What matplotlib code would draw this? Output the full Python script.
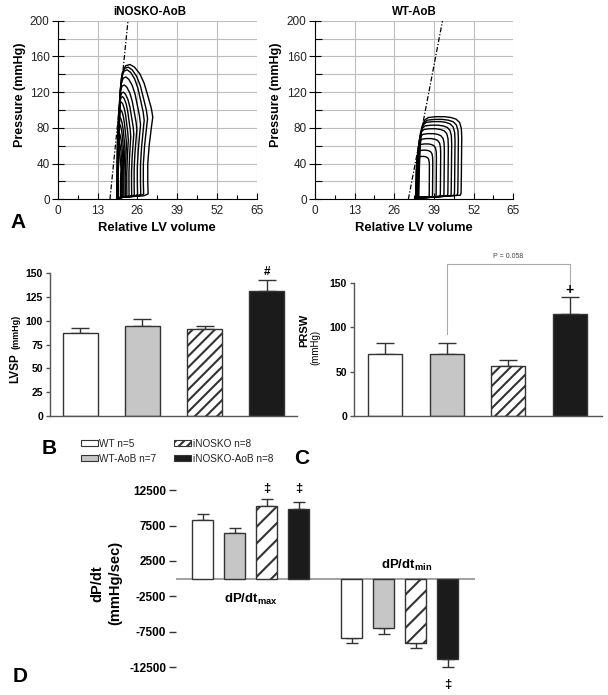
import numpy as np
import matplotlib.pyplot as plt
from matplotlib.patches import Patch

plt.rcParams['font.family'] = ['Liberation Sans', 'DejaVu Sans']
plt.rcParams['mathtext.fontset'] = 'custom'
plt.rcParams['mathtext.rm'] = 'Liberation Sans'
plt.rcParams['mathtext.bf'] = 'Liberation Sans:bold'
plt.rcParams['hatch.linewidth'] = 1.5
plt.rcParams['axes.unicode_minus'] = False

# ---- data ----
groups = ['WT n=5', 'WT-AoB n=7', 'iNOSKO n=8', 'iNOSKO-AoB n=8']
bar_colors = ['white', '#c6c6c6', 'white', '#1b1b1b']
bar_hatch = [None, None, '///', None]

lvsp = [87.5, 94.5, 91.5, 131.5]
lvsp_err = [5.5, 7.5, 3.0, 11.0]

prsw = [70.3, 70.3, 56.4, 115.0]
prsw_err = [12.0, 12.4, 7.1, 18.8]

dpdt_max = [8270, 6400, 10290, 9820]
dpdt_max_err = [840, 700, 900, 990]
dpdt_min = [-8310, -6990, -9050, -11350]
dpdt_min_err = [790, 800, 650, 1150]

vol_ticks = [0, 13, 26, 39, 52, 65]
p_ticks = [0, 40, 80, 120, 160, 200]

# ESPVR lines (volume at P=0 and P=200)
espvr_p = [0, 200]
ko_espvr_v = [17.0, 22.9]
wt_espvr_v = [30.6, 41.8]

# loop outlines, normalised (u: fraction of stroke volume, v: fraction of peak pressure)
ko_shape_u = [0.0, 0.03, 0.07, 0.10, 0.15, 0.24, 0.36, 0.49, 0.64, 0.76, 0.87,
              0.96, 1.0, 0.96, 0.90, 0.86, 0.86, 0.87, 0.75, 0.41, 0.07, 0.0]
ko_shape_v = [0.01, 0.26, 0.60, 0.83, 0.94, 0.99, 1.0, 0.98, 0.93, 0.86, 0.76,
              0.675, 0.61, 0.53, 0.40, 0.265, 0.13, 0.04, 0.026, 0.02, 0.013, 0.01]
wt_shape_u = [0.0, 0.01, 0.03, 0.06, 0.09, 0.14, 0.22, 0.40, 0.60, 0.75, 0.87,
              0.95, 0.99, 1.0, 0.995, 0.99, 0.985, 0.97, 0.70, 0.35, 0.0]
wt_shape_v = [0.03, 0.30, 0.60, 0.80, 0.90, 0.96, 0.99, 1.0, 1.0, 0.99, 0.97,
              0.93, 0.86, 0.75, 0.50, 0.25, 0.08, 0.05, 0.04, 0.025, 0.03]

# per-loop extents: left volume, right volume, peak pressure
ko_vmin = [19.3, 19.4, 19.5, 19.5, 19.4, 19.5, 19.6, 19.4, 19.5, 19.3, 19.4, 19.2, 19.3, 19.4]
ko_vmax = [31.0, 29.3, 28.2, 27.0, 25.8, 24.8, 23.8, 23.0, 22.4, 21.9, 21.5, 21.2, 20.9, 20.6]
ko_pmax = [151, 148, 145, 137, 128, 120, 115, 109, 100, 92, 84, 75, 65, 55]

wt_vmin = [34.0, 33.9, 33.8, 33.6, 33.5, 33.4, 33.3, 33.2, 33.1, 33.0]
wt_vmax = [48.1, 47.0, 45.9, 44.8, 43.7, 42.4, 41.2, 39.8, 38.6, 37.5]
wt_pmax = [92.5, 89.5, 87, 83, 79, 73.5, 68, 62, 55, 48]

W, H = 608, 695


def rect(l, r, t, b):
    return [l / W, 1 - b / H, (r - l) / W, (b - t) / H]


fig = plt.figure(figsize=(W / 100, H / 100), dpi=100)


def pv_panel(box, title, su, sv, vmin, vmax, pmax, espvr_v, ylab_x, title_x):
    ax = fig.add_axes(box)
    ax.set_xlim(0, 65)
    ax.set_ylim(0, 200)
    ax.set_xticks(vol_ticks)
    ax.set_xticks([6.5, 19.5, 32.5, 45.5, 58.5], minor=True)
    ax.set_yticks(p_ticks)
    ax.set_yticks([20, 60, 100, 140, 180], minor=True)
    ax.grid(True, axis='y', which='both', color='#bdbdbd', lw=0.8)
    ax.grid(True, axis='x', which='major', color='#bdbdbd', lw=0.8)
    ax.set_axisbelow(True)
    ax.spines['top'].set_visible(False)
    ax.spines['right'].set_visible(False)
    ax.tick_params(axis='y', which='major', direction='inout', length=8, width=0.8,
                   labelsize=8.5, labelcolor='#222', pad=2)
    ax.tick_params(axis='y', which='minor', direction='in', length=5, width=0.8)
    ax.tick_params(axis='x', which='major', direction='in', length=4, width=0.8,
                   labelsize=8.5, labelcolor='#222', pad=4)
    ax.tick_params(axis='x', which='minor', direction='in', length=3, width=0.8)
    su = np.array(su)
    sv = np.array(sv)
    for a, b, p in zip(vmin, vmax, pmax):
        ax.plot(a + su * (b - a), sv * p, color='black', lw=1.0)
    ax.plot(espvr_v, espvr_p, color='black', lw=0.9, ls=(0, (4, 1.5, 1, 1.5)))
    ax.set_xlabel('Relative LV volume', fontsize=9.4, fontweight='bold', labelpad=4)
    fig.text(ylab_x / W, 1 - 95 / H, 'Pressure (mmHg)', rotation=90, fontsize=9,
             fontweight='bold', ha='center', va='center')
    fig.text(title_x / W, 1 - 12 / H, title, fontsize=8.3, fontweight='bold',
             ha='center', va='center')
    return ax


pv_panel(rect(58, 256.7, 20.7, 199.3), 'iNOSKO-AoB', ko_shape_u, ko_shape_v,
         ko_vmin, ko_vmax, ko_pmax, ko_espvr_v, 20, 150)
pv_panel(rect(315, 513.3, 20.7, 199.3), 'WT-AoB', wt_shape_u, wt_shape_v,
         wt_vmin, wt_vmax, wt_pmax, wt_espvr_v, 276, 414)


def bars(ax, xpos, vals, errs, width, capsize, up=True, hatch_list=bar_hatch):
    for x, v, c, h in zip(xpos, vals, bar_colors, hatch_list):
        ax.bar(x, v, width, color=c, edgecolor='#333333', lw=1.0, hatch=h, zorder=2)
    z = np.zeros(len(vals))
    yerr = [z, errs] if up else [errs, z]
    ax.errorbar(xpos, vals, yerr=yerr, fmt='none', ecolor='#333333', elinewidth=1.0,
                capsize=capsize, capthick=1.0, zorder=1)


def style_bar_axes(ax):
    for s in ['top', 'right']:
        ax.spines[s].set_visible(False)
    for s in ['left', 'bottom']:
        ax.spines[s].set_color('#555555')
        ax.spines[s].set_linewidth(1.0)
    ax.set_xticks([])
    ax.tick_params(axis='y', length=3, width=1.0, color='#555555', labelsize=7.5, pad=2)
    for t in ax.get_yticklabels():
        t.set_fontweight('bold')


# ---- panel B ----
xb = np.arange(4)
axB = fig.add_axes(rect(50, 297, 273.3, 416))
bars(axB, xb, lvsp, lvsp_err, 0.565, 6.5)
axB.set_xlim(-0.49, 3.49)
axB.set_ylim(0, 150)
axB.set_yticks([0, 25, 50, 75, 100, 125, 150])
style_bar_axes(axB)
axB.text(3, 151.5, '#', ha='center', va='center', fontsize=8.5, fontweight='bold')
fig.text(15 / W, 1 - 368 / H, 'LVSP', rotation=90, fontsize=8.5, fontweight='bold',
         ha='center', va='center')
fig.text(16 / W, 1 - 332 / H, '(mmHg)', rotation=90, fontsize=6.5, fontweight='bold',
         ha='center', va='center')

# ---- panel C ----
axC = fig.add_axes(rect(354, 602, 282.7, 416))
bars(axC, xb, prsw, prsw_err, 0.553, 6.5)
axC.set_xlim(-0.504, 3.528)
axC.set_ylim(0, 150)
axC.set_yticks([0, 50, 100, 150])
style_bar_axes(axC)
axC.text(3, 142, '+', ha='center', va='center', fontsize=10, fontweight='bold')
axC.plot([1, 1, 3, 3], [92, 171, 171, 149], color='#aaaaaa', lw=0.8, clip_on=False)
axC.text(2, 179, 'P = 0.058', ha='center', va='center', fontsize=5, color='#444')
fig.text(304 / W, 1 - 330 / H, 'PRSW', rotation=90, fontsize=8, fontweight='bold',
         ha='center', va='center')
fig.text(315 / W, 1 - 347 / H, '(mmHg)', rotation=90, fontsize=7, ha='center',
         va='center')

# ---- panel D ----
xd_max = np.arange(4)
xd_min = np.arange(4) + 4.66
axD = fig.add_axes(rect(176, 475, 472.3, 692.2))
axD.axhline(0, color='#9a9a9a', lw=1.3, zorder=0)
d_hatch = [None, None, '//', None]
bars(axD, xd_max, dpdt_max, dpdt_max_err, 0.66, 4.2, up=True, hatch_list=d_hatch)
bars(axD, xd_min, dpdt_min, dpdt_min_err, 0.66, 4.2, up=False, hatch_list=d_hatch)
axD.set_xlim(-0.834, 8.51)
axD.set_ylim(-16000, 15000)
axD.set_yticks([-12500, -7500, -2500, 2500, 7500, 12500])
for s in ['top', 'right', 'bottom', 'left']:
    axD.spines[s].set_visible(False)
axD.set_xticks([])
axD.tick_params(axis='y', length=5, width=1.0, color='#333', labelsize=8.5, pad=2)
for t in axD.get_yticklabels():
    t.set_fontweight('bold')
for x in [2, 3]:
    axD.text(x, 12700, '\u2021', ha='center', va='center', fontsize=9.5, fontweight='bold')
axD.text(xd_min[3], -15000, '\u2021', ha='center', va='center', fontsize=9.5,
         fontweight='bold')
axD.text(1.5, -2900, r'dP/dt$_{\mathbf{max}}$', ha='center', va='center', fontsize=9.5,
         fontweight='bold')
axD.text(xd_min[1] + 0.7, 1800, r'dP/dt$_{\mathbf{min}}$', ha='center', va='center',
         fontsize=9.5, fontweight='bold')
fig.text(97 / W, 1 - 584 / H, 'dP/dt', rotation=90, fontsize=10.5, fontweight='bold',
         ha='center', va='center')
fig.text(115 / W, 1 - 583 / H, '(mmHg/sec)', rotation=90, fontsize=10.5, fontweight='bold',
         ha='center', va='center')

# ---- legend ----
handles = [Patch(facecolor=c, edgecolor='#333333', hatch=h, label=g, lw=0.8)
           for c, h, g in zip(bar_colors, [None, None, '////', None], groups)]
fig.legend(handles=handles, ncol=2, loc='upper left', bbox_to_anchor=(81 / W, 1 - 439 / H),
           frameon=False, fontsize=7.2, handlelength=1.7, handleheight=0.55,
           handletextpad=0.12, columnspacing=1.8, labelspacing=0.45, borderpad=0,
           borderaxespad=0, labelcolor='#222')

# ---- panel letters ----
for letter, x, y in [('A', 18, 222), ('B', 49, 449), ('C', 302, 458), ('D', 20, 677)]:
    fig.text(x / W, 1 - y / H, letter, fontsize=15, fontweight='bold', ha='center',
             va='center')

fig.savefig('out.png', dpi=100)
